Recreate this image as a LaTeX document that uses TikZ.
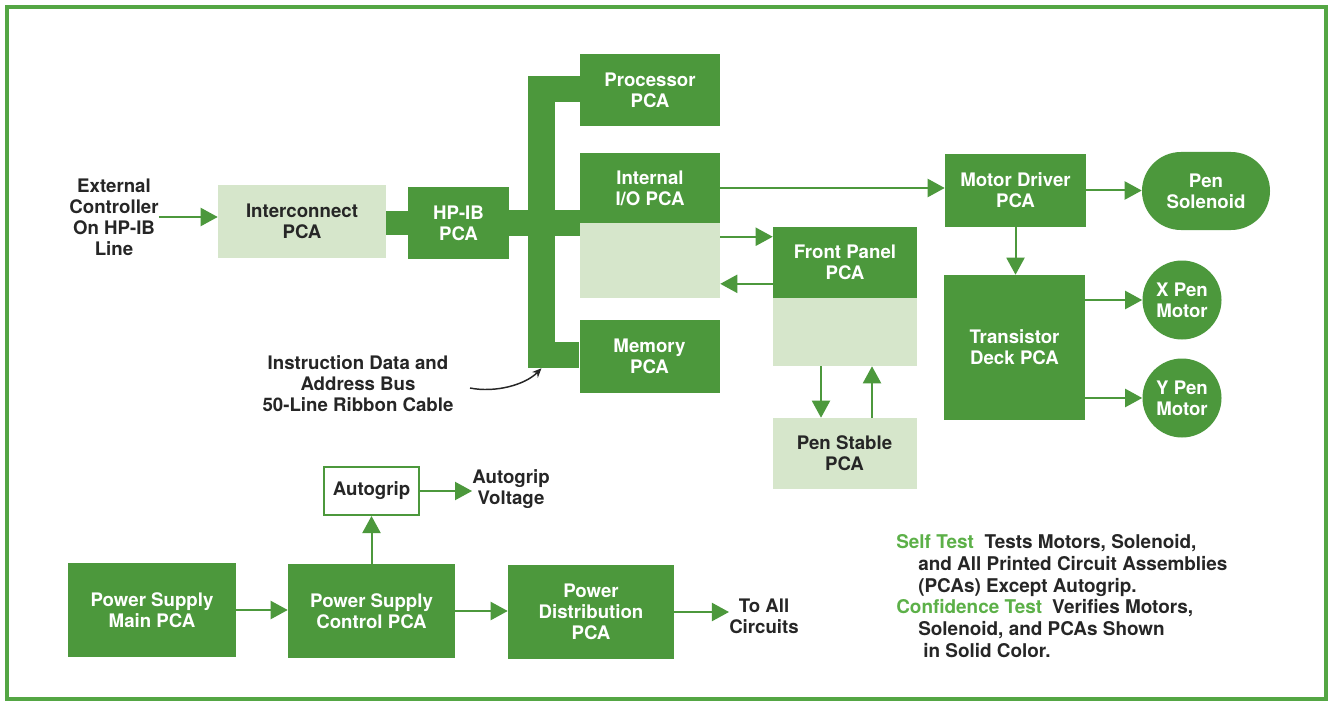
\documentclass[tikz,border=0pt]{standalone}
\usepackage{fontspec}
\setmainfont{TeX Gyre Heros}
\usetikzlibrary{arrows.meta,calc}
\definecolor{dg}{RGB}{76,152,60}
\definecolor{lg}{RGB}{214,230,203}
\definecolor{fg}{RGB}{84,166,68}
\definecolor{tg}{RGB}{92,176,72}
\definecolor{ink}{RGB}{38,38,38}
\tikzset{
  lbl/.style={font=\bfseries\fontsize{14}{15.75}\selectfont, align=center, inner sep=0pt},
  dbox/.style={lbl, fill=dg, text=white, minimum width=105pt, minimum height=54pt},
  lbox/.style={lbl, fill=lg, text=ink, minimum width=105pt, minimum height=54pt},
  motor/.style={lbl, fill=dg, text=white, circle, minimum width=59.25pt, minimum height=59.25pt},
  txt/.style={lbl, text=ink},
  legtxt/.style={font=\bfseries\fontsize{14.2}{16}\selectfont, text=ink, inner sep=0pt, anchor=base west},
  arr/.style={draw=dg, line width=1.5pt, -{Triangle[length=12.75pt,width=13.5pt]}},
  frame/.style={draw=fg, line width=3pt}
}
\begin{document}
\begin{tikzpicture}[x=0.75pt, y=-0.75pt]
\useasboundingbox (0,0) rectangle (1331,706);
\fill[white] (0,0) rectangle (1331,706);
\draw[frame] (7,7) rectangle (1326,699);

% text labels
\node[txt] (ext) at (114,217) {External\\Controller\\On HP-IB\\Line};
\node[txt] (note) at (358,384) {Instruction Data and\\Address Bus\\50-Line Ribbon Cable};
\node[txt] (agv) at (511,489) {Autogrip\\Voltage};
\node[txt] (toall) at (764,616) {To All\\Circuits};

% boxes
\node[lbox, minimum width=126pt, minimum height=54.75pt] (inter) at (302,221.5) {Interconnect\\PCA};
\node[dbox, minimum width=75.75pt, minimum height=54pt] (hpib) at (458.5,223) {HP-IB\\PCA};
\node[dbox, minimum width=20.25pt, minimum height=219pt] (bus) at (541.5,222) {};
\node[dbox] (proc) at (650,90) {Processor\\PCA};
\node[dbox, minimum height=52.5pt] (io) at (650,188) {Internal\\I/O PCA};
\node[lbox, minimum height=56.25pt] (io2) at (650,260.5) {};
\node[dbox, minimum height=54.75pt] (mem) at (649.5,356.5) {Memory\\PCA};
\node[dbox, minimum width=108pt, minimum height=53.25pt] (fp) at (845,262.5) {Front Panel\\PCA};
\node[lbox, minimum width=108pt, minimum height=51pt] (fp2) at (845,332) {};
\node[lbox, minimum width=108pt, minimum height=53.25pt] (pstab) at (844.5,453.5) {Pen Stable\\PCA};
\node[dbox, minimum width=105.75pt, minimum height=54.75pt] (md) at (1015.5,190.5) {Motor Driver\\PCA};
\node[dbox, minimum width=105.75pt, minimum height=108.75pt] (td) at (1014.5,347.5) {Transistor\\Deck PCA};
\node[dbox, minimum width=96pt, minimum height=58.5pt, rounded corners=29.2pt] (pensol) at (1206,191) {Pen\\Solenoid};
\node[motor] (xmot) at (1182,300) {X Pen\\Motor};
\node[motor] (ymot) at (1182,398) {Y Pen\\Motor};
\node[lbl, text=ink, draw=dg, line width=1.5pt, fill=white, minimum width=71.25pt, minimum height=36pt] (agrip) at (371.5,491) {Autogrip};
\node[dbox, minimum width=126pt, minimum height=70.5pt] (psm) at (152,610) {Power Supply\\Main PCA};
\node[dbox, minimum width=125.25pt, minimum height=70.5pt] (psc) at (371.5,611) {Power Supply\\Control PCA};
\node[dbox, minimum width=124.5pt, minimum height=70.5pt] (pd) at (591,612) {Power\\Distribution\\PCA};

% bus bands
\coordinate (bt) at ([yshift=9.4pt]hpib.east);
\coordinate (bb) at ([yshift=-9.4pt]hpib.east);
\fill[dg] (bt) rectangle (bb -| io.west);
\coordinate (it) at ([yshift=9pt]hpib.west);
\coordinate (ib) at ([yshift=-9pt]hpib.west);
\fill[dg] (it -| inter.east) rectangle (ib);
\coordinate (pt) at ([yshift=-19.5pt]bus.north east);
\fill[dg] (bus.north east) rectangle (pt -| proc.west);
\coordinate (mt) at ([yshift=19.5pt]bus.south east);
\fill[dg] (bus.south east) rectangle (mt -| mem.west);

% arrows
\draw[arr] (ext.east) -- (ext.east -| inter.west);
\draw[arr] (io.east) -- (io.east -| md.west);
\coordinate (a1) at ([yshift=-10.5pt]io2.north east);
\draw[arr] (a1) -- (a1 -| fp.west);
\coordinate (a2) at ([yshift=-16pt]fp.west);
\draw[arr] (a2) -- (a2 -| io2.east);
\draw[arr] ([xshift=-18pt]fp2.south) -- ([xshift=-18pt]fp2.south |- pstab.north);
\draw[arr] ([xshift=20.25pt]fp2.south |- pstab.north) -- ([xshift=20.25pt]fp2.south);
\draw[arr] (md.east) -- (md.east -| pensol.west);
\draw[arr] (md.south) -- (md.south |- td.north);
\draw[arr] (td.east |- xmot.west) -- (xmot.west);
\draw[arr] (td.east |- ymot.west) -- (ymot.west);
\draw[arr] (psm.east) -- (psm.east -| psc.west);
\draw[arr] (psc.east) -- (psc.east -| pd.west);
\draw[arr] (pd.east) -- (pd.east -| toall.west);
\draw[arr] (psc.north) -- (psc.north |- agrip.south);
\draw[arr] (agrip.east) -- (agrip.east -| agv.west);

% bus note arrow
\coordinate (nstart) at (470,388);
\draw[ink, line width=1.1pt, -{Stealth[length=7pt,width=6pt]}] (nstart) .. controls (495,393) and (525,385) .. (bus.south);

% legend
\node[legtxt] (leg1) at (896,548) {{\color{tg}Self Test}\hspace{8pt}Tests Motors, Solenoid,};
\node[legtxt] (leg2) at (918,570) {and All Printed Circuit Assemblies};
\node[legtxt] (leg3) at (918,592) {(PCAs) Except Autogrip.};
\node[legtxt] (leg4) at (896,613) {{\color{tg}Confidence Test}\hspace{7.5pt}Verifies Motors,};
\node[legtxt] (leg5) at (918,635) {Solenoid, and PCAs Shown};
\node[legtxt] (leg6) at (923,657) {in Solid Color.};
\end{tikzpicture}
\end{document}
